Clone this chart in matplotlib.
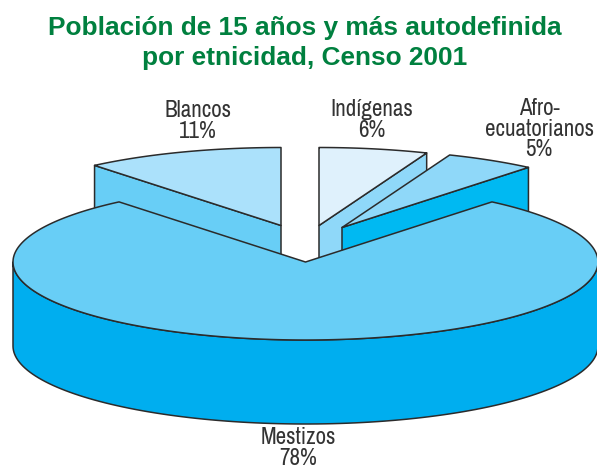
import numpy as np
import matplotlib
matplotlib.use("Agg")
import matplotlib.pyplot as plt
from matplotlib.patches import Polygon

# --- data ---
title_lines = "Población de 15 años y más autodefinida\npor etnicidad, Censo 2001"
categories = ["Mestizos", "Blancos", "Indígenas", "Afro-\necuatorianos"]
shares = [78, 11, 6, 5]

# --- style ---
top_colors = ["#68CEF6", "#ABE1FB", "#DFF1FC", "#8FD8F9"]
cut_colors = ["#68CEF6", "#68CEF6", "#8FD8F9", "#00B9F2"]
RIM = "#00AEEF"
EDGE = "#2b2b2b"
GREEN = "#00803F"
TEXT = "#333333"
NARROW = ["Archivo Narrow", "Liberation Sans"]

RX, RY, DEPTH = 292.5, 78.0, 84.0
CENTER = (305.5, 262.0)
apexes = [CENTER, (281.0, 225.5), (319.0, 225.5), (342.0, 227.5)]
label_pos = [(198, 121), (372, 120), (539, 129), (298, 448)]

fig = plt.figure(figsize=(5.97, 4.68), dpi=100)
ax = fig.add_axes([0, 0, 1, 1])
ax.set_xlim(0, 597)
ax.set_ylim(468, 0)
ax.axis("off")


def arc(center, a0, a1, n=120, drop=0.0):
    t = np.radians(np.linspace(a0, a1, n))
    return np.column_stack([center[0] + RX * np.cos(t), center[1] - RY * np.sin(t) + drop])


def poly(pts, fc, z, lw=1.1):
    ax.add_patch(Polygon(pts, closed=True, fc=fc, ec=EDGE, lw=lw, joinstyle="round", zorder=z))


# the exploded slices share the gap left by the main slice
gap = 360 * (100 - shares[0]) / 100
start = 90 + gap / 2
spans = []
a = start
for s in shares[1:]:
    spans.append((a, a - 360 * s / 100))
    a = spans[-1][1]

# exploded slices, back to front
for i, (a0, a1) in enumerate(spans, start=1):
    c = apexes[i]
    rim = arc(c, a0, a1)
    top = np.vstack([[c], rim])
    z = 2 + i
    edge_pt = rim[0] if i == 1 else rim[-1]
    face = np.array([c, edge_pt, edge_pt + [0, DEPTH], np.array(c) + [0, DEPTH]])
    poly(face, cut_colors[i], z)
    poly(top, top_colors[i], z + 0.5)

# main slice: rim, then top going the long way round the gap
rim_front = arc(CENTER, 180, 360)
rim_back = arc(CENTER, 360, 180, drop=DEPTH)
poly(np.vstack([rim_front, rim_back]), RIM, 10)
main_top = arc(CENTER, start, 360 + 90 - gap / 2, n=400)
poly(np.vstack([[CENTER], main_top]), top_colors[0], 11)

# --- text ---
ax.text(305, 43, title_lines, ha="center", va="center", color=GREEN, fontsize=18.9,
        fontweight="bold", family="Liberation Sans", linespacing=1.33, zorder=20)

labels = [f"{c}\n{s}%" for c, s in zip(categories[1:] + categories[:1], shares[1:] + shares[:1])]
for (x, y), t in zip(label_pos, labels):
    ax.text(x, y, t, ha="center", va="center", color=TEXT, fontsize=16.6,
            family=NARROW, linespacing=0.98, zorder=20)

fig.savefig("out.png", dpi=100)
